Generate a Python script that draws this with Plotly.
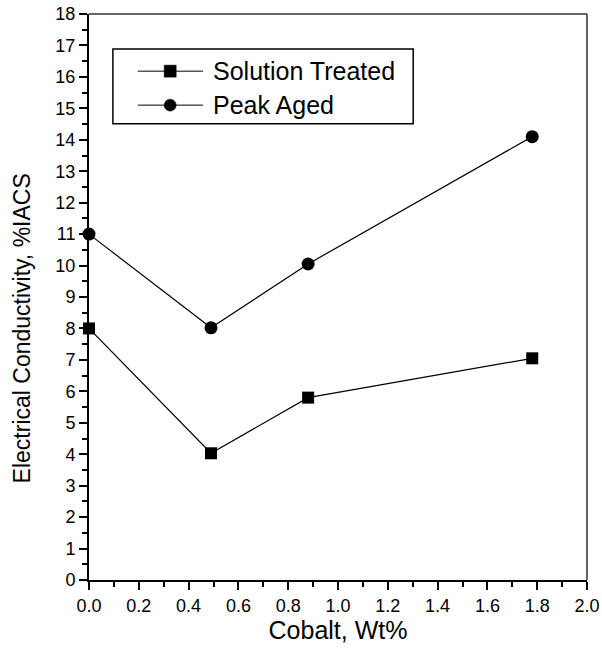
import plotly.graph_objects as go

# Cobalt content (wt%) and electrical conductivity (%IACS)
cobalt = [0.0, 0.49, 0.88, 1.78]
solution_treated = [8.0, 4.03, 5.8, 7.05]
peak_aged = [11.0, 8.02, 10.05, 14.1]

series_names = ["Solution Treated", "Peak Aged"]

x_ticks = [0.0, 0.2, 0.4, 0.6, 0.8, 1.0, 1.2, 1.4, 1.6, 1.8, 2.0]
y_ticks = list(range(0, 19))

FONT = "Liberation Sans, Arial, sans-serif"

fig = go.Figure()
fig.add_trace(go.Scatter(
    x=cobalt, y=solution_treated, name=series_names[0],
    mode="lines+markers", cliponaxis=False, showlegend=False,
    line=dict(color="black", width=1.2),
    marker=dict(symbol="square", size=12, color="black"),
))
fig.add_trace(go.Scatter(
    x=cobalt, y=peak_aged, name=series_names[1],
    mode="lines+markers", cliponaxis=False, showlegend=False,
    line=dict(color="black", width=1.2),
    marker=dict(symbol="circle", size=13, color="black"),
))

axis_common = dict(
    showgrid=False, zeroline=False, showline=True, automargin=False,
    linecolor="black", linewidth=2,
    ticks="outside", tickcolor="black", tickwidth=2, ticklen=8,
    tickfont=dict(family=FONT, size=18, color="black"),
)

fig.update_xaxes(
    range=[0, 2.0], tickvals=x_ticks,
    ticktext=[f"{v:.1f}" for v in x_ticks],
    minor=dict(dtick=0.1, ticks="outside", ticklen=5, tickwidth=2, tickcolor="black"),
    title=dict(text="Cobalt, Wt%", font=dict(family=FONT, size=25, color="black"), standoff=6),
    **axis_common,
)
fig.update_yaxes(
    range=[0, 18], tickvals=y_ticks,
    minor=dict(dtick=0.5, ticks="outside", ticklen=5, tickwidth=2, tickcolor="black"),
    **axis_common,
)

# y-axis title
fig.add_annotation(
    text="Electrical Conductivity, %IACS", textangle=-90,
    xref="paper", yref="paper", x=-0.134, y=0.445,
    xanchor="center", yanchor="middle", showarrow=False,
    font=dict(family=FONT, size=23, color="black"),
)

# thin frame on top and right
fig.add_shape(type="line", xref="paper", yref="paper", x0=0, x1=1, y0=1, y1=1,
              line=dict(color="#333333", width=1.5))
fig.add_shape(type="line", xref="paper", yref="paper", x0=1, x1=1, y0=0, y1=1,
              line=dict(color="#333333", width=1.5))

# legend box with line-and-marker samples
fig.add_shape(type="rect", xref="paper", yref="paper",
              x0=0.048, x1=0.651, y0=0.806, y1=0.938,
              line=dict(color="black", width=1.5), fillcolor="white")
legend_rows = [0.899, 0.839]
legend_symbols = ["rect", "circle"]
for name, ry, sym in zip(series_names, legend_rows, legend_symbols):
    fig.add_shape(type="line", xref="paper", yref="paper",
                  x0=0.098, x1=0.229, y0=ry, y1=ry,
                  line=dict(color="black", width=1))
    fig.add_shape(type=sym, xref="paper", yref="paper",
                  xsizemode="pixel", ysizemode="pixel",
                  xanchor=0.163, yanchor=ry,
                  x0=-6, x1=6, y0=-6, y1=6,
                  line=dict(color="black", width=0.5), fillcolor="black")
    fig.add_annotation(
        text=name, xref="paper", yref="paper", x=0.245, y=ry,
        xanchor="left", yanchor="middle", showarrow=False,
        font=dict(family=FONT, size=25, color="black"),
    )

fig.update_layout(
    width=602, height=650,
    margin=dict(l=89, r=15, t=14, b=70, autoexpand=False),
    paper_bgcolor="white", plot_bgcolor="white",
    font=dict(family=FONT, color="black"),
    showlegend=False,
)

fig.write_html("out.html")
